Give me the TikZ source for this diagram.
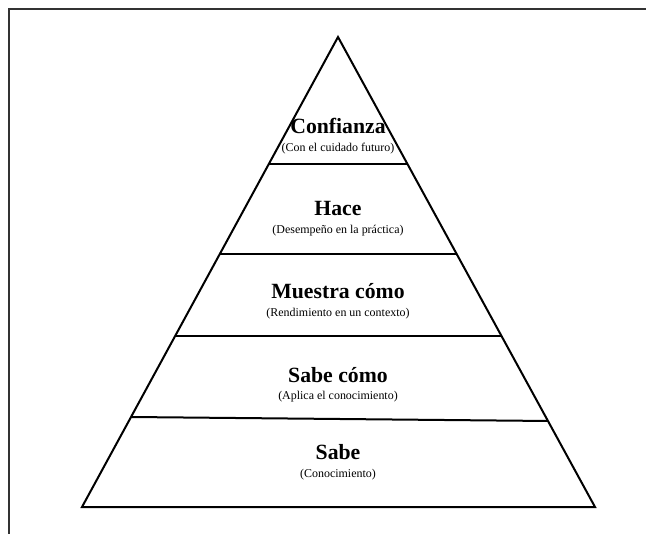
\documentclass[tikz,border=0pt]{standalone}
\usepackage{fontspec}
\setmainfont{Liberation Serif}
\usetikzlibrary{calc}

\tikzset{
  tiername/.style={font=\fontsize{21.8}{24}\selectfont\bfseries, anchor=base, inner sep=0pt},
  tiernote/.style={font=\fontsize{12}{14}\selectfont, anchor=base, inner sep=0pt},
}

\begin{document}
\begin{tikzpicture}[x=1bp,y=-1bp,line width=2bp]
\useasboundingbox (0,0) rectangle (646,534);
% frame
\draw[line width=1.2bp,black!80] (646,9) -- (9,9) -- (9,534);
% pyramid
\coordinate (top) at (338,37);
\coordinate (bl) at (82,507);
\coordinate (br) at (595,507);
\draw (top) -- (bl) -- (br) -- cycle;
\draw ($(top)!0.270!(bl)$) -- ($(top)!0.270!(br)$);
\draw ($(top)!0.462!(bl)$) -- ($(top)!0.462!(br)$);
\draw ($(top)!0.636!(bl)$) -- ($(top)!0.636!(br)$);
\draw ($(top)!0.8085!(bl)$) -- ($(top)!0.817!(br)$);
% labels
\node[tiername] (confianza) at (338,134) {Confianza};
\node[tiernote] (confianzanote) at (338,152) {(Con el cuidado futuro)};
\node[tiername] (hace) at (338,216) {Hace};
\node[tiernote] (hacenote) at (338,234) {(Desempeño en la práctica)};
\node[tiername] (muestra) at (338,298) {Muestra cómo};
\node[tiernote] (muestranote) at (338,316) {(Rendimiento en un contexto)};
\node[tiername] (sabecomo) at (338,382) {Sabe cómo};
\node[tiernote] (sabecomonote) at (338,399) {(Aplica el conocimiento)};
\node[tiername] (sabe) at (338,459) {Sabe};
\node[tiernote] (sabenote) at (338,477) {(Conocimiento)};
\end{tikzpicture}
\end{document}
